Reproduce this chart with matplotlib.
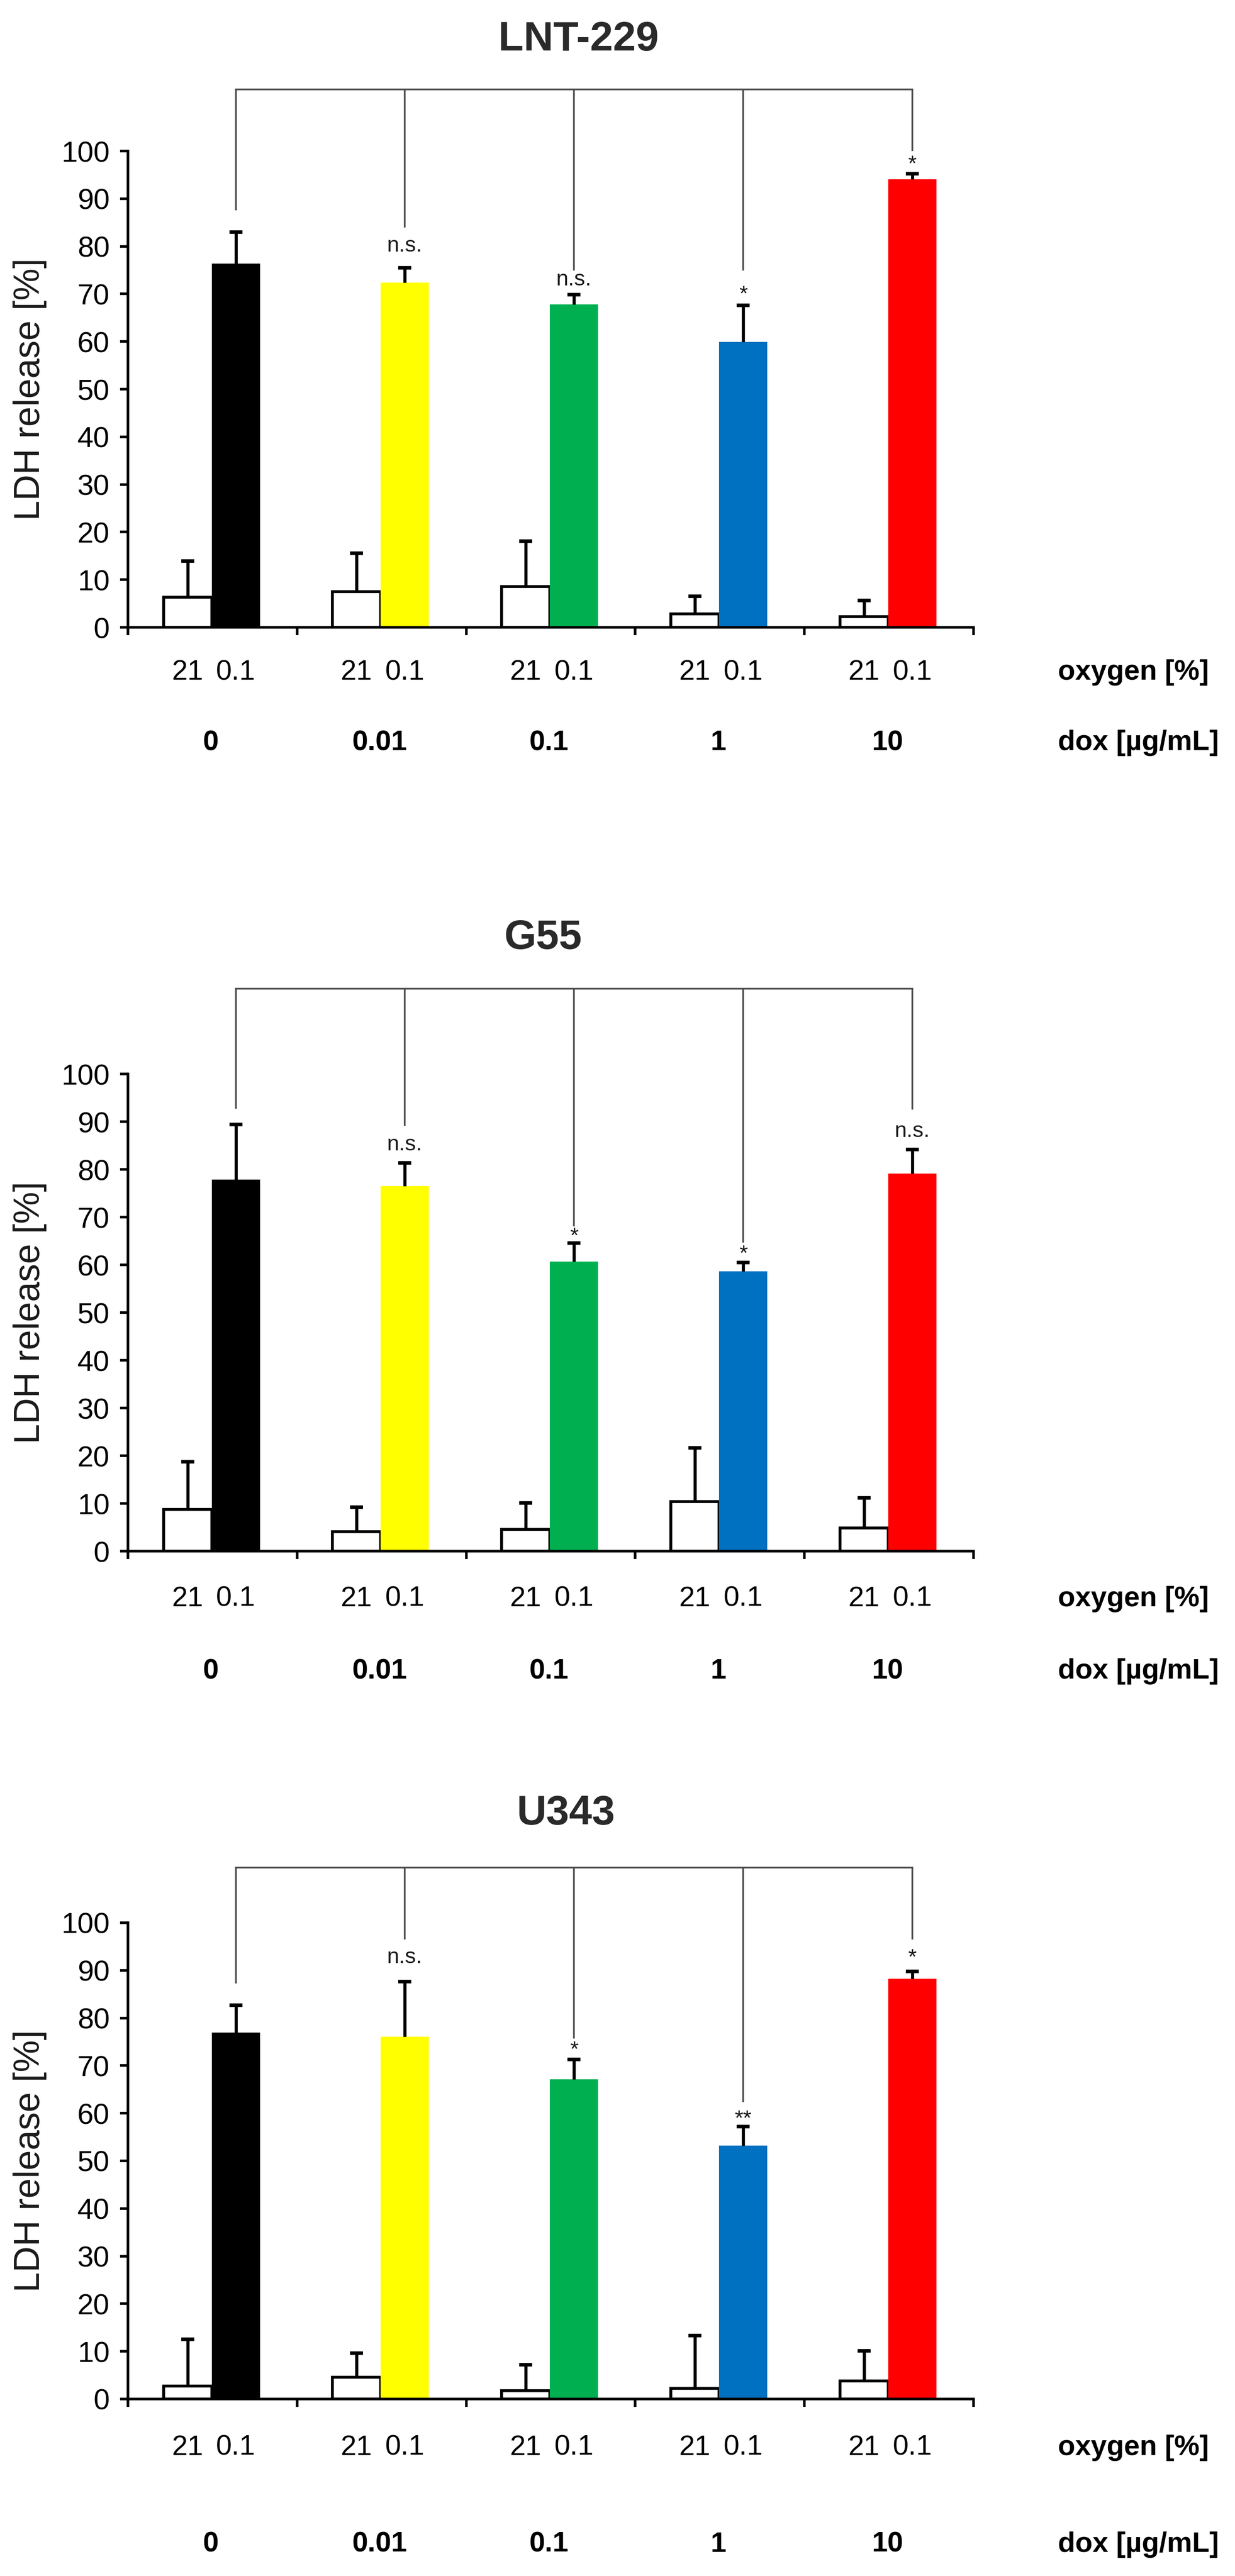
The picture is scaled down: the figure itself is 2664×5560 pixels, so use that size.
import matplotlib
matplotlib.use('Agg')
import matplotlib.pyplot as plt
import numpy as np

plt.rcParams['font.family'] = ['Liberation Sans', 'DejaVu Sans']

# shared categories
DOX = ['0', '0.01', '0.1', '1', '10']
OXYGEN = ['21', '0.1']
COLORS = ['black', '#FFFF00', '#00B050', '#0070C0', '#FF0000']

# LNT-229
LNT_NORM = [6.3, 7.5, 8.6, 2.8, 2.2]
LNT_NORM_ERR = [7.6, 8.1, 9.5, 3.7, 3.4]
LNT_HYP = [76.4, 72.4, 67.8, 59.9, 94.1]
LNT_HYP_ERR = [6.6, 3.1, 2.0, 7.7, 1.1]
LNT_SIG = ['', 'n.s.', 'n.s.', '*', '*']
LNT_SIG_Y = [0, 80.1, 73.0, 71.2, 98.5]
LNT_DROP = [87.6, 84.0, 74.9, 74.9, 100.0]

# G55
G55_NORM = [8.7, 4.1, 4.6, 10.4, 4.9]
G55_NORM_ERR = [10.0, 5.1, 5.5, 11.3, 6.3]
G55_HYP = [77.9, 76.5, 60.7, 58.6, 79.1]
G55_HYP_ERR = [11.5, 4.9, 3.9, 1.9, 5.1]
G55_SIG = ['', 'n.s.', '*', '*', 'n.s.']
G55_SIG_Y = [0, 85.2, 67.3, 63.6, 88.0]
G55_DROP = [92.7, 89.1, 68.1, 64.7, 92.5]

# U343
U343_NORM = [2.7, 4.6, 1.7, 2.2, 3.8]
U343_NORM_ERR = [9.8, 5.0, 5.5, 11.1, 6.3]
U343_HYP = [76.9, 76.1, 67.1, 53.2, 88.2]
U343_HYP_ERR = [5.8, 11.5, 4.2, 4.0, 1.6]
U343_SIG = ['', 'n.s.', '*', '**', '*']
U343_SIG_Y = [0, 92.7, 74.6, 60.1, 94.0]
U343_DROP = [87.3, 96.5, 75.7, 62.4, 96.5]

FW, FH = 2664, 5560
W = 0.285
BR = '#4a4a4a'
TXT = '#1a1a1a'


def draw_panel(rect, title, title_x, title_base, norm, norm_err, hyp, hyp_err,
               sig, sig_y, drops, bracket_y, oxy_y, dox_y):
    ax = fig.add_axes(rect)
    x0 = np.arange(5) + 0.3525
    x1 = np.arange(5) + 0.6375
    ax.bar(x0, norm, W, color='white', edgecolor='black', linewidth=4.5, zorder=2)
    ax.bar(x1, hyp, W, color=COLORS, linewidth=0, zorder=2)
    for xs, v, e in [(x0, norm, norm_err), (x1, hyp, hyp_err)]:
        v = np.asarray(v); e = np.asarray(e)
        ax.vlines(xs, v, v + e, color='black', lw=4.8, zorder=3)
        ax.plot(xs, v + e, ls='none', marker='_', ms=19.5, mew=5.5, color='black', zorder=3)

    # comparison bracket
    ax.plot([x1[0], x1[-1]], [bracket_y, bracket_y], color=BR, lw=2.6, clip_on=False)
    ax.vlines(x1, drops, bracket_y, color=BR, lw=2.6, clip_on=False)
    for x, s, c in zip(x1, sig, sig_y):
        if s:
            off = 1.2 if s == 'n.s.' else 2.6
            ax.text(x, c - off, s, ha='center', va='baseline', fontsize=34, color=TXT)

    ax.set_xlim(0, 5); ax.set_ylim(0, 100)
    for sp in ['top', 'right']:
        ax.spines[sp].set_visible(False)
    for sp in ['left', 'bottom']:
        ax.spines[sp].set_linewidth(4)
    ax.set_yticks(range(0, 101, 10))
    ax.tick_params(axis='y', labelsize=45, length=12.4, width=4, pad=16)
    ax.set_xticks(range(6)); ax.set_xticklabels([])
    ax.tick_params(axis='x', length=12.4, width=4)
    ax.text(-0.1157, 0.5, 'LDH release [%]', rotation=90, ha='center', va='center',
            fontsize=56, color=TXT, transform=ax.transAxes)

    tr = ax.get_xaxis_transform()
    for i in range(5):
        ax.text(x0[i], oxy_y, OXYGEN[0], ha='center', va='baseline', fontsize=44, transform=tr)
        ax.text(x1[i], oxy_y, OXYGEN[1], ha='center', va='baseline', fontsize=44, transform=tr)
        ax.text(i + 0.49, dox_y, DOX[i], ha='center', va='baseline', fontsize=44,
                fontweight='bold', transform=tr)
    ax.text(5.5, oxy_y, 'oxygen [%]', ha='left', va='baseline', fontsize=44,
            fontweight='bold', transform=tr)
    ax.text(5.5, dox_y, 'dox [µg/mL]', ha='left', va='baseline', fontsize=44,
            fontweight='bold', transform=tr)
    fig.text(title_x / FW, 1 - title_base / FH, title, ha='center', va='baseline',
             fontsize=64, fontweight='bold', color='#2a2a2a')
    return ax


fig = plt.figure(figsize=(FW / 100, FH / 100), dpi=100)
L, WD = 276 / FW, 1824 / FW
draw_panel([L, 0.75647, WD, 0.18489], 'LNT-229', 1248, 109,
           LNT_NORM, LNT_NORM_ERR, LNT_HYP, LNT_HYP_ERR, LNT_SIG, LNT_SIG_Y, LNT_DROP,
           112.9, -0.110, -0.258)
draw_panel([L, 0.39784, WD, 0.18525], 'G55', 1171, 2048,
           G55_NORM, G55_NORM_ERR, G55_HYP, G55_HYP_ERR, G55_SIG, G55_SIG_Y, G55_DROP,
           117.9, -0.1155, -0.267)
draw_panel([L, 0.06871, WD, 0.18489], 'U343', 1221, 3938,
           U343_NORM, U343_NORM_ERR, U343_HYP, U343_HYP_ERR, U343_SIG, U343_SIG_Y, U343_DROP,
           111.6, -0.1177, -0.321)
fig.savefig('out.png', dpi=100, facecolor='white')
